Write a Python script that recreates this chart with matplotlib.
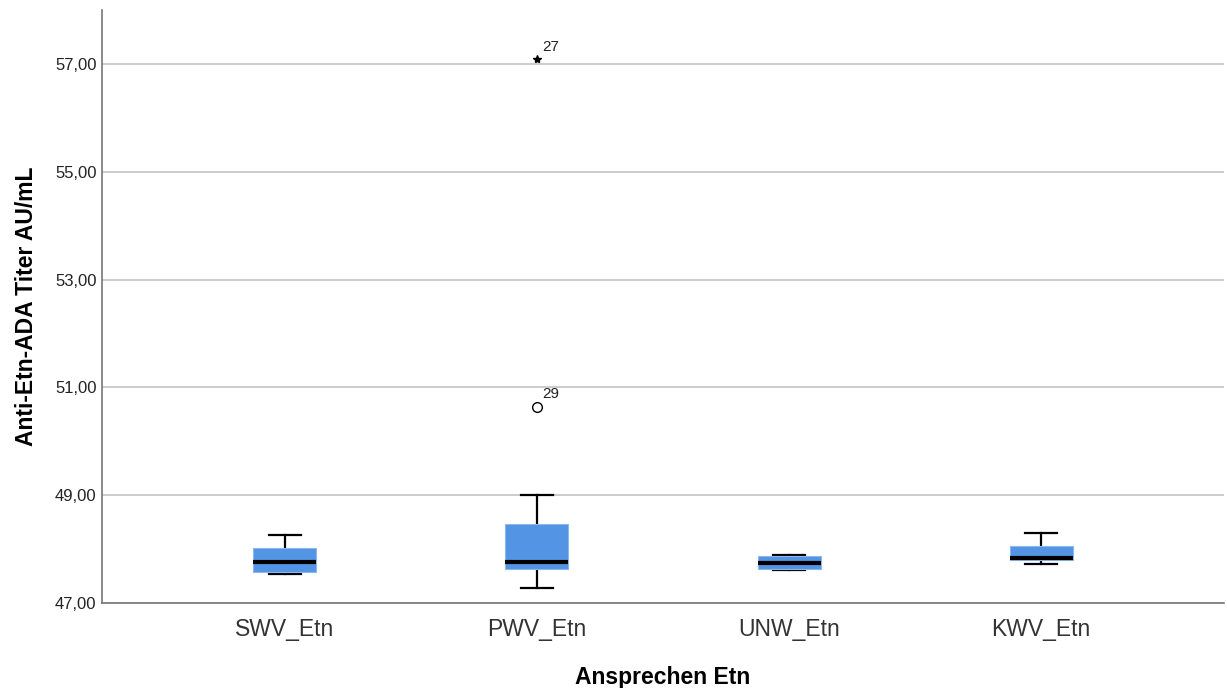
import matplotlib.pyplot as plt
import matplotlib.ticker as mticker

plt.rcParams["font.family"] = ["Liberation Sans", "DejaVu Sans"]

# =========================
# data
# =========================
groups = ["SWV_Etn", "PWV_Etn", "UNW_Etn", "KWV_Etn"]
whisker_low = [47.53, 47.27, 47.62, 47.72]
q1 = [47.57, 47.63, 47.63, 47.79]
median = [47.76, 47.76, 47.75, 47.84]
q3 = [48.03, 48.46, 47.87, 48.06]
whisker_high = [48.26, 49.00, 47.90, 48.30]

# outliers: group index, value, case id, marker
outlier_group = [1, 1]
outlier_vals = [57.09, 50.64]
outlier_ids = ["27", "29"]
outlier_marker = ["*", "o"]

yticks = [47, 49, 51, 53, 55, 57]

# =========================
# figure
# =========================
fig = plt.figure(figsize=(12.27, 6.88), dpi=100)
ax = fig.add_axes([0.0831, 0.1235, 0.9145, 0.862])

stats = []
for i, g in enumerate(groups):
    stats.append({"label": g, "whislo": whisker_low[i], "q1": q1[i],
                  "med": median[i], "q3": q3[i], "whishi": whisker_high[i],
                  "fliers": []})

pos = list(range(1, len(groups) + 1))
ax.bxp(stats, positions=pos, widths=0.25, capwidths=0.127,
       showfliers=False, patch_artist=True,
       boxprops=dict(facecolor="#5394E4", edgecolor="#8DB8EE", linewidth=0.8, zorder=3),
       medianprops=dict(color="black", linewidth=3, solid_capstyle="butt", zorder=4),
       whiskerprops=dict(color="black", linewidth=1.6, zorder=2),
       capprops=dict(color="black", linewidth=1.6, zorder=2))

# outliers with case labels
for gi, v, lab, m in zip(outlier_group, outlier_vals, outlier_ids, outlier_marker):
    x = pos[gi]
    if m == "*":
        ax.plot(x, v, marker="*", color="black", markersize=6, zorder=4)
    else:
        ax.plot(x, v, marker="o", markerfacecolor="white",
                markeredgecolor="black", markersize=7, zorder=4)
    ax.annotate(lab, (x, v), xytext=(4, 6), textcoords="offset points",
                fontsize=11, color="#222222")

# =========================
# axes styling
# =========================
ax.set_xlim(0.275, 4.725)
ax.set_ylim(47, 58)
ax.set_yticks(yticks)
ax.yaxis.set_major_formatter(mticker.FuncFormatter(lambda v, p: f"{v:.2f}".replace(".", ",")))
ax.set_xticks(pos)
ax.set_xticklabels(groups, fontsize=16.5, color="#333333")
ax.tick_params(axis="y", length=0, labelsize=12, pad=4, labelcolor="#222222")
ax.tick_params(axis="x", length=0, pad=11)
ax.grid(axis="y", color="#C8C8C8", linewidth=1.3, zorder=0)
ax.set_axisbelow(True)

for s in ["top", "right"]:
    ax.spines[s].set_visible(False)
for s in ["left", "bottom"]:
    ax.spines[s].set_color("#777777")
    ax.spines[s].set_linewidth(1.2)

ax.set_ylabel("Anti-Etn-ADA Titer AU/mL", fontsize=16.5, fontweight="bold", labelpad=12)
ax.set_xlabel("Ansprechen Etn", fontsize=16.5, fontweight="bold", labelpad=18)

plt.savefig("out.png", dpi=100)
